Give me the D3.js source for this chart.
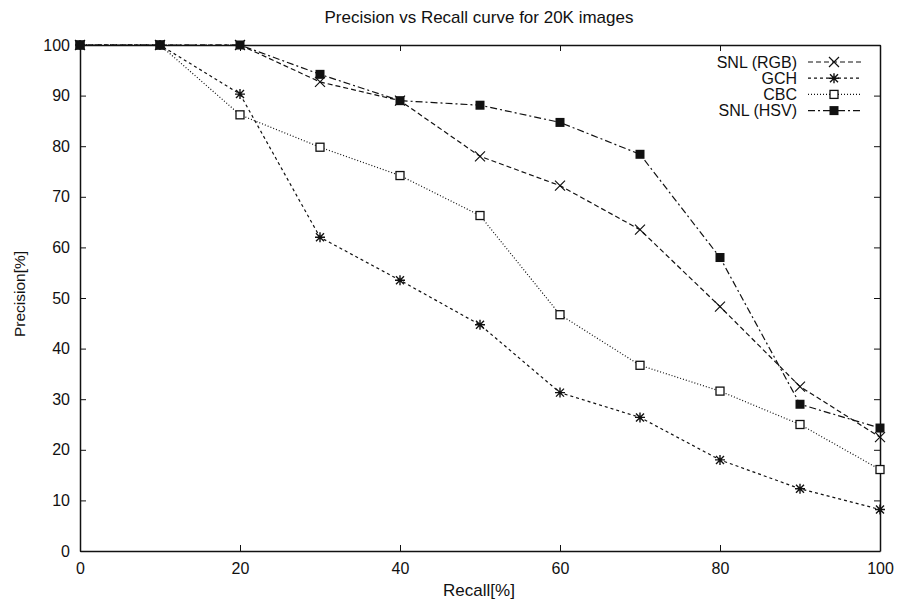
<!DOCTYPE html>
<html>
<head>
<meta charset="utf-8">
<script src="https://cdn.jsdelivr.net/npm/d3@7"></script>
<style>
  body { margin: 0; background: #fff; }
  svg text { font-family: "Liberation Sans", Arial, sans-serif; fill: #111; }
</style>
</head>
<body>
<div id="chart"></div>
<script>
// recall levels and precision per method
const recall = [0, 10, 20, 30, 40, 50, 60, 70, 80, 90, 100];
const snlRgb = [100, 100, 100, 92.7, 89, 78, 72.2, 63.5, 48.3, 32.5, 22.5];
const gch    = [100, 100, 90.3, 62, 53.5, 44.7, 31.3, 26.4, 18, 12.3, 8.2];
const cbc    = [100, 100, 86.2, 79.8, 74.2, 66.3, 46.7, 36.7, 31.6, 25, 16.1];
const snlHsv = [100, 100, 100, 94.2, 89, 88.1, 84.7, 78.4, 58, 29, 24.3];
const seriesNames = ['SNL (RGB)', 'GCH', 'CBC', 'SNL (HSV)'];
const xTicks = [0, 20, 40, 60, 80, 100];
const yTicks = [0, 10, 20, 30, 40, 50, 60, 70, 80, 90, 100];

const width = 899;
const height = 606;
const margin = { top: 45, right: 19, bottom: 55, left: 80 };

const series = [
  { name: seriesNames[0], values: snlRgb, dash: '5,3', marker: 'x' },
  { name: seriesNames[1], values: gch, dash: '3,3', marker: 'star' },
  { name: seriesNames[2], values: cbc, dash: '1,2', marker: 'box' },
  { name: seriesNames[3], values: snlHsv, dash: '7,3,2,3', marker: 'fbox' }
];

const svg = d3.select('#chart')
  .append('svg')
  .attr('width', width)
  .attr('height', height);

const xScale = d3.scaleLinear()
  .domain([0, 100])
  .range([margin.left, width - margin.right]);

const yScale = d3.scaleLinear()
  .domain([0, 100])
  .range([height - margin.bottom, margin.top]);

// frame with inward ticks on every side
svg.append('g')
  .attr('transform', `translate(0, ${height - margin.bottom})`)
  .call(d3.axisBottom(xScale).tickValues(xTicks).tickSizeInner(-6).tickSizeOuter(0).tickPadding(12))
  .call(g => g.selectAll('text').style('font-size', '16px'));

svg.append('g')
  .attr('transform', `translate(${margin.left}, 0)`)
  .call(d3.axisLeft(yScale).tickValues(yTicks).tickSizeInner(-6).tickSizeOuter(0).tickPadding(10))
  .call(g => g.selectAll('text').style('font-size', '16px'));

svg.append('g')
  .attr('transform', `translate(0, ${margin.top})`)
  .call(d3.axisTop(xScale).tickValues(xTicks).tickSizeInner(-6).tickSizeOuter(0).tickFormat(''));

svg.append('g')
  .attr('transform', `translate(${width - margin.right}, 0)`)
  .call(d3.axisRight(yScale).tickValues(yTicks).tickSizeInner(-6).tickSizeOuter(0).tickFormat(''));

svg.selectAll('.domain').attr('stroke', '#111').attr('stroke-width', 1.5);
svg.selectAll('.tick line').attr('stroke', '#111');

function drawMarker(g, type, cx, cy) {
  if (type === 'x') {
    g.append('path').attr('d', `M${cx-5},${cy-5}L${cx+5},${cy+5}M${cx-5},${cy+5}L${cx+5},${cy-5}`)
      .attr('stroke', '#111').attr('stroke-width', 1.2).attr('fill', 'none');
  } else if (type === 'star') {
    g.append('path').attr('d', `M${cx-4},${cy-4}L${cx+4},${cy+4}M${cx-4},${cy+4}L${cx+4},${cy-4}M${cx-5},${cy}L${cx+5},${cy}M${cx},${cy-5}L${cx},${cy+5}`)
      .attr('stroke', '#111').attr('stroke-width', 1.4).attr('fill', 'none');
  } else if (type === 'box') {
    g.append('rect').attr('x', cx - 4).attr('y', cy - 4).attr('width', 8).attr('height', 8)
      .attr('stroke', '#111').attr('stroke-width', 1.3).attr('fill', '#fff');
  } else {
    g.append('rect').attr('x', cx - 4.5).attr('y', cy - 4.5).attr('width', 9).attr('height', 9)
      .attr('fill', '#111');
  }
}

const line = d3.line()
  .x((d, i) => xScale(recall[i]))
  .y(d => yScale(d));

series.forEach(s => {
  const g = svg.append('g');
  g.append('path')
    .datum(s.values)
    .attr('d', line)
    .attr('fill', 'none')
    .attr('stroke', '#111')
    .attr('stroke-width', 1.2)
    .attr('stroke-dasharray', s.dash);
  s.values.forEach((v, i) => drawMarker(g, s.marker, xScale(recall[i]), yScale(v)));
});

// legend
const legend = svg.append('g');
series.forEach((s, i) => {
  const y = 62 + i * 16.2;
  legend.append('text').attr('x', 797).attr('y', y + 5.5).attr('text-anchor', 'end')
    .style('font-size', '16px').text(s.name);
  legend.append('line').attr('x1', 808).attr('x2', 861).attr('y1', y).attr('y2', y)
    .attr('stroke', '#111').attr('stroke-width', 1.2).attr('stroke-dasharray', s.dash);
  drawMarker(legend, s.marker, 834, y);
});

// title and axis labels
svg.append('text')
  .attr('x', 479).attr('y', 23)
  .style('text-anchor', 'middle').style('font-size', '17px')
  .text('Precision vs Recall curve for 20K images');

svg.append('text')
  .attr('x', 479).attr('y', 596)
  .style('text-anchor', 'middle').style('font-size', '17px')
  .text('Recall[%]');

svg.append('text')
  .attr('transform', 'rotate(-90)')
  .attr('x', -294).attr('y', 25)
  .style('text-anchor', 'middle').style('font-size', '15.5px')
  .text('Precision[%]');
</script>
</body>
</html>
